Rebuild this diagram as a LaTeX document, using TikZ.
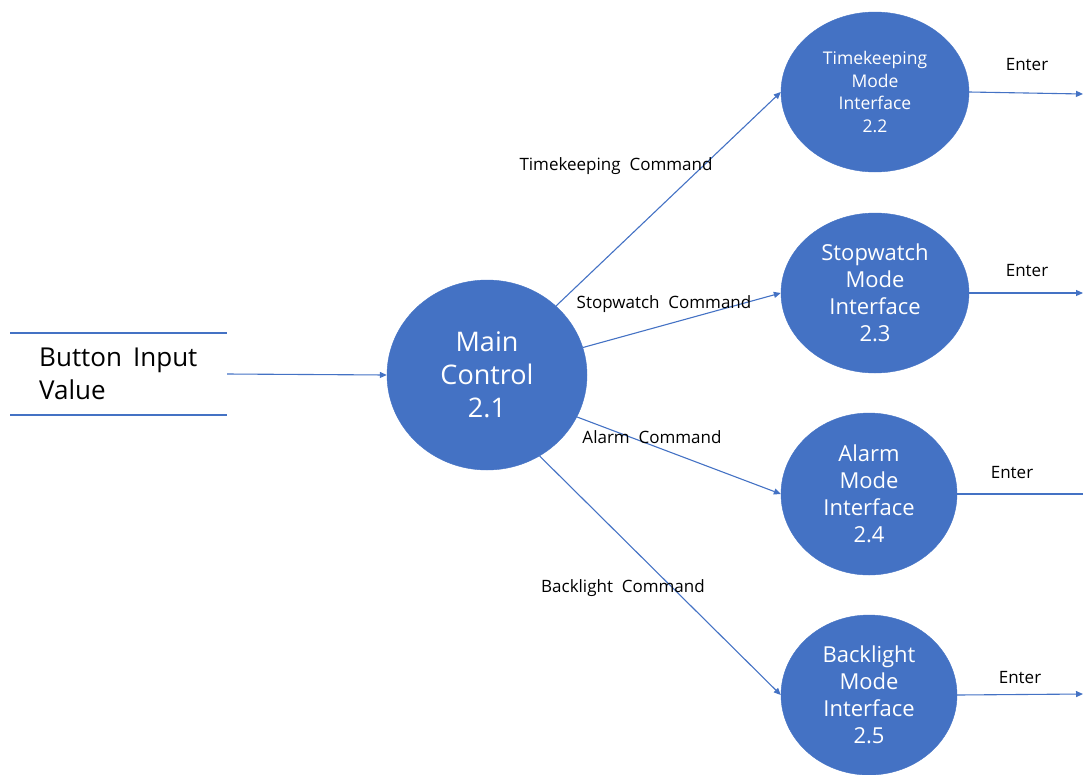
\documentclass[tikz,border=0pt]{standalone}
\usepackage{fontspec}
\setmainfont{Open Sans}
\usetikzlibrary{arrows.meta,shapes.geometric}
\definecolor{ofblue}{HTML}{4472C4}
\begin{document}
\begin{tikzpicture}[x=1pt,y=-1pt,
  proc/.style={ellipse,fill=ofblue,draw=ofblue,text=white,align=center,inner sep=0pt},
  flow/.style={draw=ofblue,line width=1.1pt,-{Triangle[length=7pt,width=6pt]}},
  plain/.style={draw=ofblue,line width=1.1pt},
  lab/.style={font=\fontsize{17}{20}\selectfont,text=black,inner sep=0pt}]
\useasboundingbox (0,0) rectangle (1083,774);
% data store
\draw[plain] (10,333) -- (227,333);
\draw[plain] (10,415) -- (227,415);
\node[align=left,anchor=west,font=\fontsize{26}{33}\selectfont,inner sep=0pt] (store) at (39,374) {Button\, Input\\Value};
\coordinate (storeout) at (227,374);
% processes
\node[proc,minimum width=200pt,minimum height=190pt,font=\fontsize{27}{33}\selectfont] (main) at (487,375) {Main\\Control\\2.1};
\node[proc,minimum width=188pt,minimum height=160pt,font=\fontsize{17.5}{22.5}\selectfont] (tk) at (875,92) {Timekeeping\\Mode\\Interface\\2.2};
\node[proc,minimum width=188pt,minimum height=160pt,font=\fontsize{22}{27}\selectfont] (sw) at (875,293) {Stopwatch\\Mode\\Interface\\2.3};
\node[proc,minimum width=176pt,minimum height=162pt,font=\fontsize{22}{27}\selectfont] (al) at (869,494) {Alarm\\Mode\\Interface\\2.4};
\node[proc,minimum width=176pt,minimum height=160pt,font=\fontsize{22}{27}\selectfont] (bl) at (869,695) {Backlight\\Mode\\Interface\\2.5};
% input flow
\draw[flow] (storeout) -- (main.west);
% command flows
\draw[flow] (main.45) -- (tk.west);
\draw[flow] (main.16) -- (sw.west);
\draw[flow] (main.-25) -- (al.west);
\draw[flow] (main.-57) -- (bl.west);
\node[lab] (ltk) at (616,166) {Timekeeping\ \ Command};
\node[lab] (lsw) at (664,304) {Stopwatch\ \ Command};
\node[lab] (lal) at (652,437) {Alarm\ \ Command};
\node[lab] (lbl) at (623,588) {Backlight\ \ Command};
% outputs
\coordinate (otk) at (1083,94);
\coordinate (osw) at (1083,293);
\coordinate (oal) at (1090,494);
\coordinate (obl) at (1083,694);
\draw[flow] (tk.east) -- (otk);
\draw[flow] (sw.east) -- (osw);
\draw[flow] (al.east) -- (oal);
\draw[flow] (bl.east) -- (obl);
\node[lab] (etk) at (1027,65) {Enter};
\node[lab] (esw) at (1027,271) {Enter};
\node[lab] (eal) at (1012,473) {Enter};
\node[lab] (ebl) at (1020,678) {Enter};
\end{tikzpicture}
\end{document}
